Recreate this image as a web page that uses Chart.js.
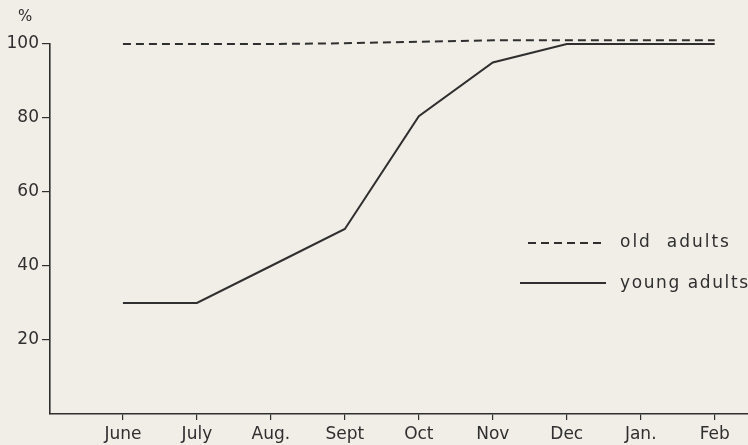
<!DOCTYPE html>
<html>
<head>
<meta charset="utf-8">
<script src="https://cdn.jsdelivr.net/npm/chart.js@4/dist/chart.umd.min.js"></script>
<style>
  html, body { margin: 0; padding: 0; background: #f1eee8; }
  #wrap { width: 748px; height: 445px; }
</style>
</head>
<body>
<div id="wrap"><canvas id="myChart"></canvas></div>
<script>
var months = ["June", "July", "Aug.", "Sept", "Oct", "Nov", "Dec", "Jan.", "Feb"];
var oldAdults = [100, 100, 100, 100.2, 100.6, 101, 101, 101, 101];
var youngAdults = [30, 30, 40, 50, 80.5, 95, 100, 100, 100];
var yTicks = [20, 40, 60, 80, 100];

var ink = '#2f2f2f';
var font = 'DejaVu Sans';

function pts(arr) {
    return arr.map(function (v, i) { return { x: i, y: v }; });
}

// "%" label and hand-placed key, as in the original figure
var extras = {
    id: 'extras',
    afterDraw: function (chart) {
        var c = chart.ctx;
        c.save();
        c.fillStyle = ink;
        c.strokeStyle = ink;
        c.font = '15px "' + font + '"';
        c.textBaseline = 'middle';
        c.fillText('%', 18, 17);

        c.lineWidth = 1.8;
        c.setLineDash([8, 5]);
        c.beginPath(); c.moveTo(528, 243); c.lineTo(606, 243); c.stroke();
        c.setLineDash([]);
        c.beginPath(); c.moveTo(520, 283); c.lineTo(606, 283); c.stroke();

        c.font = '17px "' + font + '"';
        c.letterSpacing = '2px';
        c.fillText('old  adults', 620, 243);
        c.letterSpacing = '1.6px';
        c.fillText('young adults', 620, 284);
        c.restore();
    }
};

var ctx = document.getElementById('myChart').getContext('2d');

var myChart = new Chart(ctx, {
    type: 'line',
    data: {
        datasets: [{
            label: 'old adults',
            data: pts(oldAdults),
            borderColor: ink,
            borderWidth: 2,
            borderDash: [8, 5],
            pointRadius: 0,
            tension: 0,
            clip: false
        }, {
            label: 'young adults',
            data: pts(youngAdults),
            borderColor: ink,
            borderWidth: 2,
            pointRadius: 0,
            tension: 0,
            clip: false
        }]
    },
    options: {
        responsive: true,
        maintainAspectRatio: false,
        animation: false,
        layout: { padding: { top: 44, right: 0, left: 0, bottom: 0 } },
        plugins: {
            legend: { display: false },
            tooltip: { enabled: false }
        },
        scales: {
            x: {
                type: 'linear',
                min: -0.986,
                max: 8.45,
                afterBuildTicks: function (s) {
                    s.ticks = months.map(function (m, i) { return { value: i }; });
                },
                afterFit: function (s) { s.height = 31; },
                border: { display: true, color: ink, width: 1.6 },
                grid: { drawOnChartArea: false, drawTicks: true, tickLength: 6, color: ink, lineWidth: 1.2 },
                ticks: {
                    color: ink,
                    padding: 4,
                    maxRotation: 0,
                    font: { family: font, size: 17 },
                    callback: function (v) { return months[v]; }
                }
            },
            y: {
                min: 0,
                max: 100,
                afterBuildTicks: function (s) {
                    s.ticks = yTicks.map(function (v) { return { value: v }; });
                },
                afterFit: function (s) { s.width = 50; },
                border: { display: true, color: ink, width: 1.6 },
                grid: { drawOnChartArea: false, drawTicks: true, tickLength: 8, color: ink, lineWidth: 1.2 },
                ticks: {
                    color: ink,
                    padding: 3,
                    font: { family: font, size: 17 }
                }
            }
        }
    },
    plugins: [extras]
});
</script>
</body>
</html>
